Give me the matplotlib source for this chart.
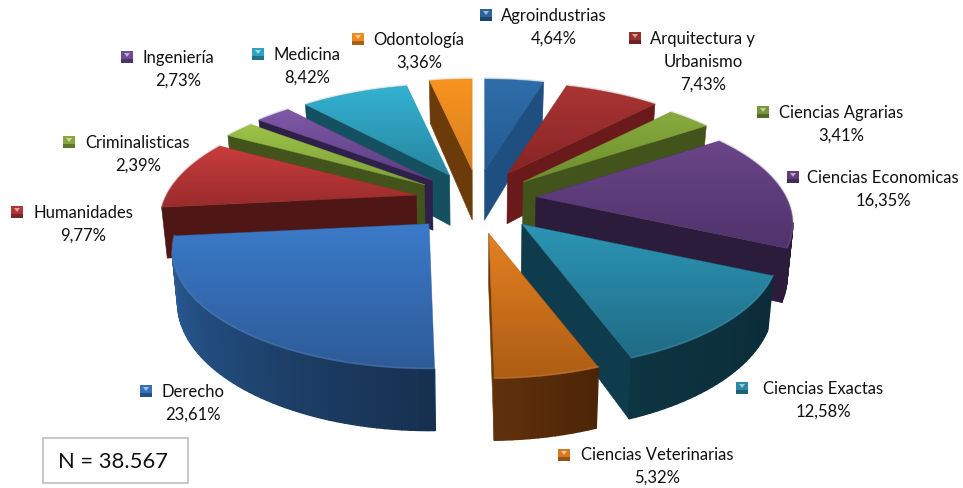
import numpy as np
import matplotlib
matplotlib.use("Agg")
import matplotlib.pyplot as plt
from matplotlib.colors import to_rgb
from matplotlib.patches import Polygon, Rectangle

categories = ["Agroindustrias", "Arquitectura y\nUrbanismo", "Ciencias Agrarias",
              "Ciencias Economicas", "Ciencias Exactas", "Ciencias Veterinarias",
              "Derecho", "Humanidades", "Criminalisticas", "Ingeniería",
              "Medicina", "Odontología"]
values = [4.64, 7.43, 3.41, 16.35, 12.58, 5.32, 23.61, 9.77, 2.39, 2.73, 8.42, 3.36]
note_text = "N = 38.567"

# Style per slice: top-face gradient, cut face, outer wall start/end
top_hi = ["#2f6eab", "#aa3434", "#88ac3e", "#6b4589", "#2b96b4", "#e58022",
          "#3b7aca", "#c93d3d", "#9dc347", "#7f58a9", "#33b2d2", "#f8941f"]
top_lo = ["#235a90", "#882525", "#6e8e2e", "#4f336b", "#1f6b85", "#ad5d14",
          "#2d5b97", "#992b2b", "#7fa03a", "#5c3f80", "#27869f", "#d7801e"]
cut_col = ["#1f4f80", "#6a1a1a", "#43531c", "#2a1c3a", "#0f3c4c", "#6a3a0a",
           "#1c3f6c", "#4f1616", "#43531c", "#2e2048", "#14505f", "#6b3c0a"]
wall_a = ["#1f4f80", "#6a1a1a", "#43531c", "#2a1c3a", "#0b2c38", "#4c2508",
          "#16304f", "#4f1616", "#43531c", "#2e2048", "#14505f", "#6b3c0a"]
wall_b = ["#1f4f80", "#6a1a1a", "#43531c", "#2a1c3a", "#0d3441", "#5f300b",
          "#2b5f9c", "#5a1a1a", "#43531c", "#2e2048", "#14505f", "#6b3c0a"]
key_col = ["#2c639c", "#983030", "#78973a", "#5e3f7c", "#2a8aa6", "#d9761f",
           "#3670b8", "#b03636", "#88a83e", "#6e4c94", "#2fa3c2", "#ee8a20"]
# Label layout (pixels): key x, key y, text centre x, first-line y
label_pos = [(486, 15, 554, 16), (635, 38, 703, 39), (763, 112, 841, 113),
             (793, 177, 883, 178), (742, 388, 823, 389), (564, 455, 657, 455),
             (146, 391, 193, 392), (17, 212, 83, 213), (69, 142, 138, 143),
             (127, 57, 178, 58), (258, 54, 307, 55), (358, 39, 419, 40)]
# Per-slice shift of the explosion point (pixels)
nudge = [(1, -6.5), (7, -5), (9, -1), (4, 2), (-1, 5), (-1.5, 4.5),
         (-3, 4), (-8, 3), (-11, 0), (-9, -2), (-6, -3), (0, -6.5)]

# Projection parameters (pixels)
CX, CY = 477.0, 197.0
A, B, P = 250.0, 112.0, 0.229
EXPLODE = 0.225
DEPTH = 50.0
SHRINK = 0.982

plt.rcParams["font.family"] = ["Lato", "DejaVu Sans"]
fig = plt.figure(figsize=(9.63, 4.88), dpi=100)
ax = fig.add_axes([0, 0, 1, 1])


def rim(t):
    return np.array([A * np.sin(t), -B * np.cos(t)]) / (1 + P * np.cos(t))


def down(pt, w):
    d = DEPTH / w ** 0.8
    return np.array([CX + (pt[0] - CX) * SHRINK, pt[1] + d])


def hangs_below(p, q, ref):
    if abs(q[0] - p[0]) < 1e-6:
        return False
    yl = p[1] + (ref[0] - p[0]) * (q[1] - p[1]) / (q[0] - p[0])
    return ref[1] < yl


def mix(c0, c1, f):
    return tuple((1 - f) * a + f * b for a, b in zip(to_rgb(c0), to_rgb(c1)))


bounds = np.concatenate([[0], np.cumsum(values)]) / sum(values) * 2 * np.pi
mids = (bounds[:-1] + bounds[1:]) / 2
order = np.argsort(-np.cos(mids))
z = 2.0
for i in order:
    t0, t1, m = bounds[i], bounds[i + 1], mids[i]
    apex = np.array([CX, CY]) + EXPLODE * rim(m) + np.array(nudge[i])
    ts = np.linspace(t0, t1, max(3, int(np.degrees(t1 - t0) / 1.5) + 1))
    arc = [apex + rim(t) for t in ts]
    arcb = [down(p, 1 + P * np.cos(t)) for p, t in zip(arc, ts)]
    apexb = down(apex, 1.0)
    # cut faces
    for pt, ptb, ref in ((arc[0], arcb[0], arc[-1]), (arc[-1], arcb[-1], arc[0])):
        if hangs_below(apex, pt, ref):
            ax.add_patch(Polygon([apex, pt, ptb, apexb], closed=True, fc=cut_col[i],
                                 ec=cut_col[i], lw=0.4, zorder=z))
            z += 0.01
    # outer wall
    for k in range(len(ts) - 1):
        if hangs_below(arc[k], arc[k + 1], apex):
            c = mix(wall_a[i], wall_b[i], k / max(1, len(ts) - 2))
            ax.add_patch(Polygon([arc[k], arc[k + 1], arcb[k + 1], arcb[k]], closed=True,
                                 fc=c, ec=c, lw=1.0, zorder=z))
            z += 0.001
    # top face with vertical gradient
    pts = np.array([apex] + arc)
    patch = Polygon(pts, closed=True, fc="none", ec="none", transform=ax.transData, zorder=z)
    ax.add_patch(patch)
    y0, y1 = pts[:, 1].min(), pts[:, 1].max()
    grad = np.array([[mix(top_hi[i], top_lo[i], f)] for f in np.linspace(0, 1, 64)])
    im = ax.imshow(grad, extent=[pts[:, 0].min() - 1, pts[:, 0].max() + 1, y1 + 0.5, y0 - 0.5],
                   aspect="auto", zorder=z, interpolation="bilinear")
    im.set_clip_path(patch)
    ax.plot(pts[:, 0].tolist() + [pts[0, 0]], pts[:, 1].tolist() + [pts[0, 1]], color=top_lo[i],
            lw=0.5, zorder=z + 0.001, alpha=0.6)
    # soft bevel along the curved edge
    arcx = np.array(arc)
    ax.plot(arcx[:, 0], arcx[:, 1] - 0.8, color=mix(top_lo[i], "#ffffff", 0.35), lw=1.2,
            alpha=0.25, zorder=z + 0.002)
    z += 0.1

ax.set_xlim(0, 963)
ax.set_ylim(488, 0)
ax.axis("off")

for name, val, col, (kx, ky, tx, ty) in zip(categories, values, key_col, label_pos):
    ax.add_patch(Rectangle((kx - 6, ky - 6), 12, 12, fc=col, ec="none", zorder=30))
    ax.add_patch(Polygon([(kx - 3, ky - 4), (kx + 3, ky - 4), (kx, ky)], closed=True,
                         fc=mix(col, "#ffffff", 0.55), ec="none", zorder=31))
    ax.add_patch(Rectangle((kx - 6, ky + 2), 12, 4, fc=mix(col, "#000000", 0.3), ec="none", zorder=31))
    pct = f"{val:.2f}%".replace(".", ",")
    for n, line in enumerate(name.split("\n") + [pct]):
        ax.text(tx, ty + n * 22.7, line, ha="center", va="center", fontsize=12.0,
                color="#111111", zorder=32)

ax.add_patch(Rectangle((43, 438), 145, 45, fc="white", ec="#c4c4c4", lw=1.3, zorder=33))
ax.text(113, 462, note_text, ha="center", va="center", fontsize=15.8, color="#111111", zorder=34)

fig.savefig("out.png", dpi=100)
